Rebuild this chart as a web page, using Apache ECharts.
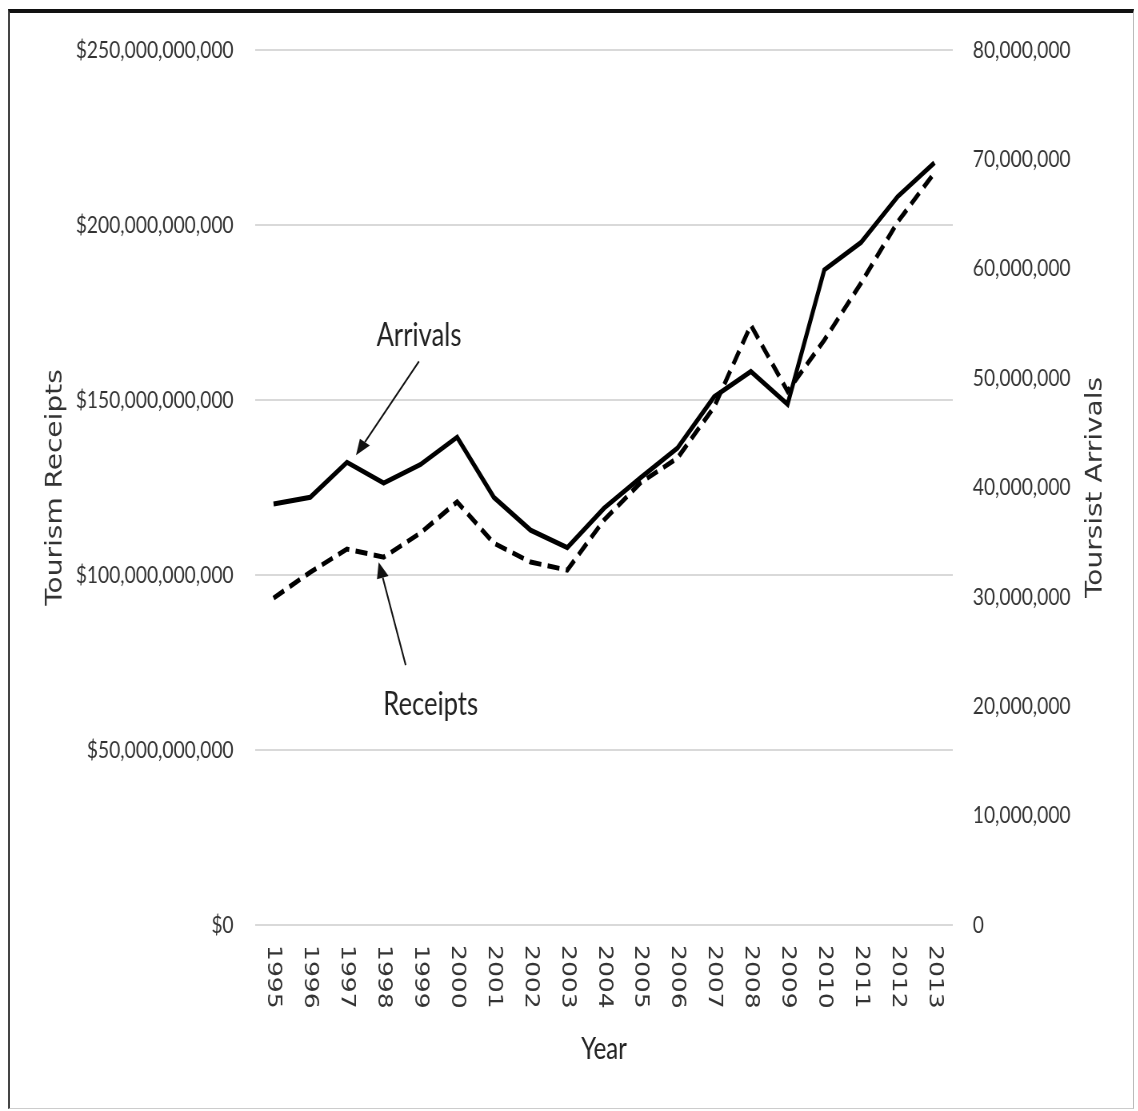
<!DOCTYPE html>
<html>
<head>
<meta charset="utf-8">
<title>Tourism Receipts and Tourist Arrivals, 1995–2013</title>
<script src="https://cdn.jsdelivr.net/npm/echarts@6/dist/echarts.min.js"></script>
<style>
  html, body { margin: 0; padding: 0; background: #fff; overflow: hidden; }
  #frame {
    position: absolute; left: 8px; top: 9px; width: 1126px; height: 1100px;
    box-sizing: border-box;
    border-top: 4px solid #111; border-left: 2px solid #444;
    border-right: 1px solid #bbb; border-bottom: 1px solid #ccc;
  }
  /* the chart is laid out on a wider canvas and condensed horizontally */
  #chart {
    position: absolute; left: 0; top: 0; width: 1422px; height: 1111px;
    transform: scaleX(0.8); transform-origin: 0 0;
  }
</style>
</head>
<body>
<div id="frame"></div>
<div id="chart"></div>
<script>
const SX = 0.8; // horizontal condensing applied to #chart

const years = ['1995','1996','1997','1998','1999','2000','2001','2002','2003','2004',
               '2005','2006','2007','2008','2009','2010','2011','2012','2013'];

// Tourism receipts, US dollars (left axis)
const receipts = [93.4e9, 100.8e9, 107.4e9, 105.1e9, 112.0e9, 120.9e9, 109.1e9, 103.7e9, 101.4e9, 115.7e9,
                  126.4e9, 133.4e9, 148.0e9, 171.4e9, 152.5e9, 167.1e9, 183.4e9, 200.9e9, 214.9e9];

// Tourist arrivals, persons (right axis)
const arrivals = [38.5e6, 39.1e6, 42.3e6, 40.4e6, 42.1e6, 44.6e6, 39.1e6, 36.1e6, 34.5e6, 38.1e6,
                  40.9e6, 43.6e6, 48.3e6, 50.6e6, 47.6e6, 59.9e6, 62.4e6, 66.6e6, 69.7e6];

const receiptAxis = { min: 0, max: 250e9, step: 50e9 };
const arrivalAxis = { min: 0, max: 80e6, step: 10e6 };

const tickFont = 'Lato';
const titleFont = 'DejaVu Sans';
const labelColor = '#333';

const chart = echarts.init(document.getElementById('chart'), null, { renderer: 'canvas' });

chart.setOption({
  animation: false,
  backgroundColor: 'transparent',
  grid: { left: 319, right: 231, top: 50, bottom: 186, containLabel: false },
  xAxis: {
    type: 'category',
    data: years,
    boundaryGap: true,
    axisLine: { show: false },
    axisTick: { show: false },
    axisLabel: {
      rotate: -90, margin: 20, interval: 0,
      fontFamily: titleFont, fontSize: 25, color: labelColor
    },
    name: 'Year', nameLocation: 'middle', nameGap: 109,
    nameTextStyle: { fontFamily: tickFont, fontSize: 30, color: '#222' }
  },
  yAxis: [
    {
      type: 'value', position: 'left',
      min: receiptAxis.min, max: receiptAxis.max, interval: receiptAxis.step,
      axisLine: { show: false }, axisTick: { show: false },
      splitLine: { show: true, lineStyle: { color: '#d9d9d9', width: 2 } },
      axisLabel: {
        margin: 27, fontFamily: tickFont, fontSize: 24, color: labelColor,
        formatter: v => '$' + v.toLocaleString('en-US')
      },
      name: 'Tourism Receipts', nameLocation: 'middle', nameRotate: 90, nameGap: 234,
      nameTextStyle: { fontFamily: titleFont, fontSize: 28, color: labelColor }
    },
    {
      type: 'value', position: 'right',
      min: arrivalAxis.min, max: arrivalAxis.max, interval: arrivalAxis.step,
      axisLine: { show: false }, axisTick: { show: false },
      splitLine: { show: false },
      axisLabel: {
        margin: 25, fontFamily: tickFont, fontSize: 24, color: labelColor,
        formatter: v => v.toLocaleString('en-US')
      },
      name: 'Toursist Arrivals', nameLocation: 'middle', nameRotate: 90, nameGap: 165,
      nameTextStyle: { fontFamily: titleFont, fontSize: 28, color: labelColor }
    }
  ],
  series: [
    {
      name: 'Receipts', type: 'line', yAxisIndex: 0, data: receipts,
      symbol: 'none', silent: true,
      lineStyle: { color: '#000', width: 5, type: [15, 8], cap: 'butt', join: 'miter' }
    },
    {
      name: 'Arrivals', type: 'line', yAxisIndex: 1, data: arrivals,
      symbol: 'none', silent: true,
      lineStyle: { color: '#000', width: 5, type: 'solid', join: 'miter' }
    }
  ]
});

// Callouts: text plus arrow pointing at a data point.
// Offsets are in on-screen pixels (after the horizontal condensing).
function callout(seriesIndex, cat, value, text, tipOff, tailOff, textOff) {
  const p = chart.convertToPixel({ seriesIndex: seriesIndex }, [cat, value]);
  const sx = p[0] * SX, sy = p[1];                 // on-screen point
  const tip = [sx + tipOff[0], sy + tipOff[1]];
  const tail = [sx + tailOff[0], sy + tailOff[1]];
  const dx = tip[0] - tail[0], dy = tip[1] - tail[1];
  const len = Math.hypot(dx, dy), ux = dx / len, uy = dy / len;
  const headLen = 16, headHalf = 6;
  const base = [tip[0] - ux * headLen, tip[1] - uy * headLen];
  const left = [base[0] - uy * headHalf, base[1] + ux * headHalf];
  const right = [base[0] + uy * headHalf, base[1] - ux * headHalf];
  const toChart = q => [q[0] / SX, q[1]];
  const t = toChart([sx + textOff[0], sy + textOff[1]]);
  return [
    { type: 'line', silent: true,
      shape: { x1: tail[0] / SX, y1: tail[1], x2: base[0] / SX, y2: base[1] },
      style: { stroke: '#111', lineWidth: 2 } },
    { type: 'polygon', silent: true,
      shape: { points: [tip, left, right].map(toChart) },
      style: { fill: '#111' } },
    { type: 'text', silent: true, x: t[0], y: t[1],
      style: { text: text, font: '32px Lato', fill: '#222', align: 'center', verticalAlign: 'middle' } }
  ];
}

const iA = years.indexOf('1997');
const iR = years.indexOf('1998');
chart.setOption({
  graphic: [].concat(
    callout(1, '1997', arrivals[iA], 'Arrivals', [9, -7], [72, -101], [72, -127]),
    callout(0, '1998', receipts[iR], 'Receipts', [-5, 5], [22, 108], [47, 148])
  )
});
</script>
</body>
</html>
